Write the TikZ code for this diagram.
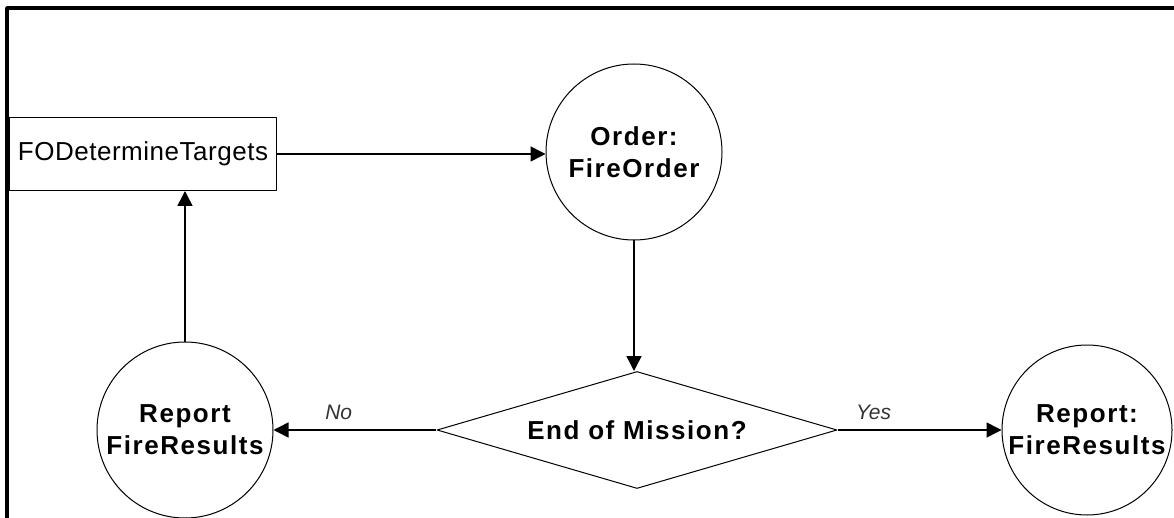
\documentclass[tikz,border=0pt]{standalone}
\usepackage{fontspec}
\setmainfont{Liberation Sans}
\usetikzlibrary{shapes.geometric,arrows.meta}
\tikzset{
  procbox/.style={draw, line width=1pt, rectangle, minimum width=267pt, minimum height=73pt, inner sep=0pt,
    font=\fontsize{26}{28}\selectfont\addfontfeature{LetterSpace=2}},
  statecircle/.style={draw, line width=1pt, circle, minimum size=176pt, inner sep=0pt, align=center,
    font=\fontsize{26}{32}\selectfont\bfseries\addfontfeature{LetterSpace=6}},
  decision/.style={draw, line width=1pt, diamond, aspect=2.4, minimum width=400pt, minimum height=117pt, inner sep=0pt,
    font=\fontsize{26}{28}\selectfont\bfseries\addfontfeature{LetterSpace=6}},
  answer/.style={font=\fontsize{21}{24}\selectfont\itshape, text=black!80}
}
\begin{document}
\begin{tikzpicture}[x=1pt, y=-1pt, >={Triangle[length=15pt,width=15pt]}, line width=1.5pt, line join=round]
  \useasboundingbox (0,0) rectangle (1174,518);
  \clip (0,0) rectangle (1174,518);
  \draw [line width=3.5pt] (1190,8) -| (7,530);
  % nodes
  \node[procbox] (targets) at (143,154) {FODetermineTargets};
  \node[statecircle] (order) at (634,152) {Order:\\FireOrder};
  \node[decision] (mission) at (637,430) {End of Mission?};
  \node[statecircle] (report) at (185,430) {Report\\FireResults};
  \node[statecircle, minimum size=170pt] (result) at (1087,430) {Report:\\FireResults};
  % connectors
  \draw [->] (targets.east) -- (targets.east -| order.west);
  \draw [->] (order) -- (order |- mission.north);
  \draw [->] (mission) -- node[answer, pos=.6, above=6pt]{No} (report);
  \draw [->] (mission) -- node[answer, pos=.22, above=6pt]{Yes} (result);
  \draw [->] (report) -- (report |- targets.south);
\end{tikzpicture}
\end{document}
